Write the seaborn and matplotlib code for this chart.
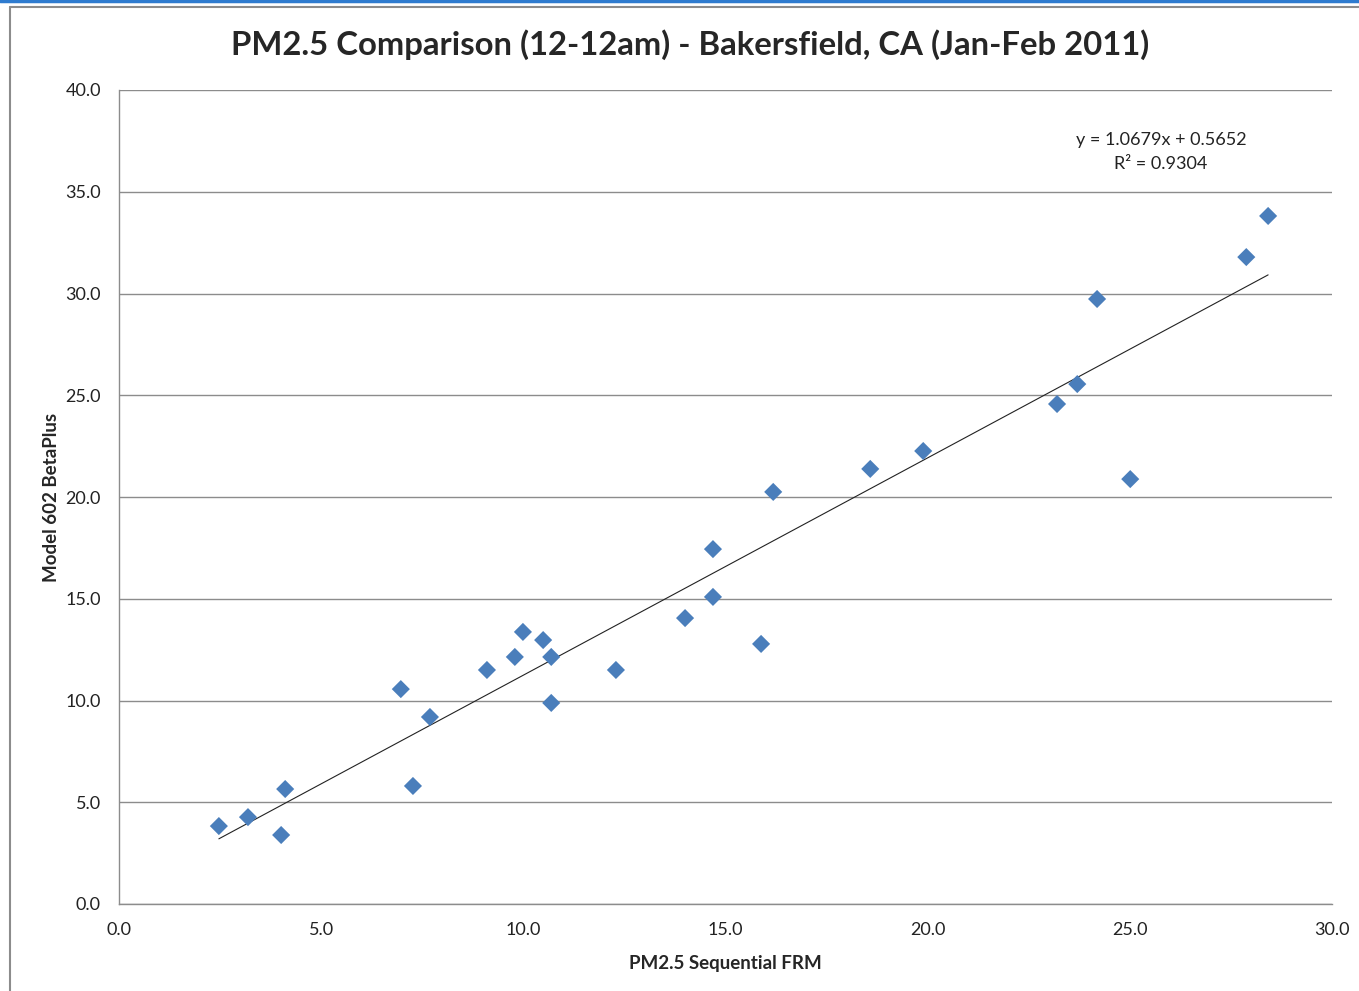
import numpy as np
import pandas as pd
import seaborn as sns
import matplotlib.pyplot as plt
from matplotlib.lines import Line2D
import matplotlib.ticker as ticker

# data
frm = [2.47, 3.19, 4.11, 4.01, 6.97, 7.27, 7.69, 9.10, 9.79, 9.99, 10.49, 10.69,
       10.69, 12.29, 14.00, 14.69, 14.69, 15.88, 16.18, 18.58, 19.89, 23.20,
       23.70, 24.19, 25.01, 27.88, 28.42]
betaplus = [3.83, 4.27, 5.65, 3.39, 10.56, 5.80, 9.19, 11.50, 12.14, 13.37, 12.97,
            12.14, 9.88, 11.50, 14.05, 17.44, 15.09, 12.78, 20.25, 21.38, 22.26,
            24.57, 25.55, 29.73, 20.88, 31.79, 33.81]
slope = 1.0679
intercept = 0.5652
r_squared = 0.9304

df = pd.DataFrame({'frm': frm, 'beta': betaplus})

sns.set_style("white")
plt.rcParams['font.family'] = ['Lato', 'DejaVu Sans']

fig = plt.figure(figsize=(13.59, 9.91), dpi=100)
ax = fig.add_axes([119 / 1359, 1 - 904 / 991, (1332 - 119) / 1359, (904 - 90) / 991])

sns.scatterplot(data=df, x='frm', y='beta', marker='D', s=85, color='#4A7EBB',
                edgecolor='none', ax=ax, zorder=3)

# linear trendline across the data range
xs = np.array([min(frm), max(frm)])
ax.plot(xs, slope * xs + intercept, color='#222222', lw=0.8, zorder=2)

ax.set_xlim(0, 30)
ax.set_ylim(0, 40)
ax.xaxis.set_major_locator(ticker.MultipleLocator(5))
ax.yaxis.set_major_locator(ticker.MultipleLocator(5))
ax.xaxis.set_major_formatter(ticker.FormatStrFormatter('%.1f'))
ax.yaxis.set_major_formatter(ticker.FormatStrFormatter('%.1f'))
ax.grid(axis='y', color='#8c8c8c', lw=1)
ax.set_axisbelow(True)
for side in ['top', 'right']:
    ax.spines[side].set_visible(False)
for side in ['left', 'bottom']:
    ax.spines[side].set_color('#8c8c8c')
    ax.spines[side].set_linewidth(1)
ax.tick_params(axis='both', direction='out', length=6, width=1, color='#8c8c8c',
               labelsize=13, labelcolor='#222222')
ax.tick_params(axis='x', pad=7)
ax.tick_params(axis='y', pad=7)

ax.set_xlabel('PM2.5 Sequential FRM', fontsize=13.5, fontweight='bold', labelpad=12)
ax.set_ylabel('Model 602 BetaPlus', fontsize=13.5, fontweight='bold', labelpad=4)

fig.text(690.5 / 1359, 1 - 45 / 991, 'PM2.5 Comparison (12-12am) - Bakersfield, CA (Jan-Feb 2011)',
         ha='center', va='center', fontsize=23.7, fontweight='bold')
fig.text(1161 / 1359, 1 - 152 / 991,
         'y = %.4fx + %.4f\nR² = %.4f' % (slope, intercept, r_squared),
         ha='center', va='center', fontsize=13, linespacing=1.6, color='#222222')

# screenshot frame
fig.add_artist(Line2D([0, 1], [1 - 1 / 991] * 2, color='#2E7BCF', lw=2.5))
fig.add_artist(Line2D([10 / 1359, 1], [1 - 6.5 / 991] * 2, color='#8c8c8c', lw=1.5))
fig.add_artist(Line2D([10 / 1359] * 2, [0, 1 - 6.5 / 991], color='#8c8c8c', lw=1.5))

fig.savefig('out.png', dpi=100)
